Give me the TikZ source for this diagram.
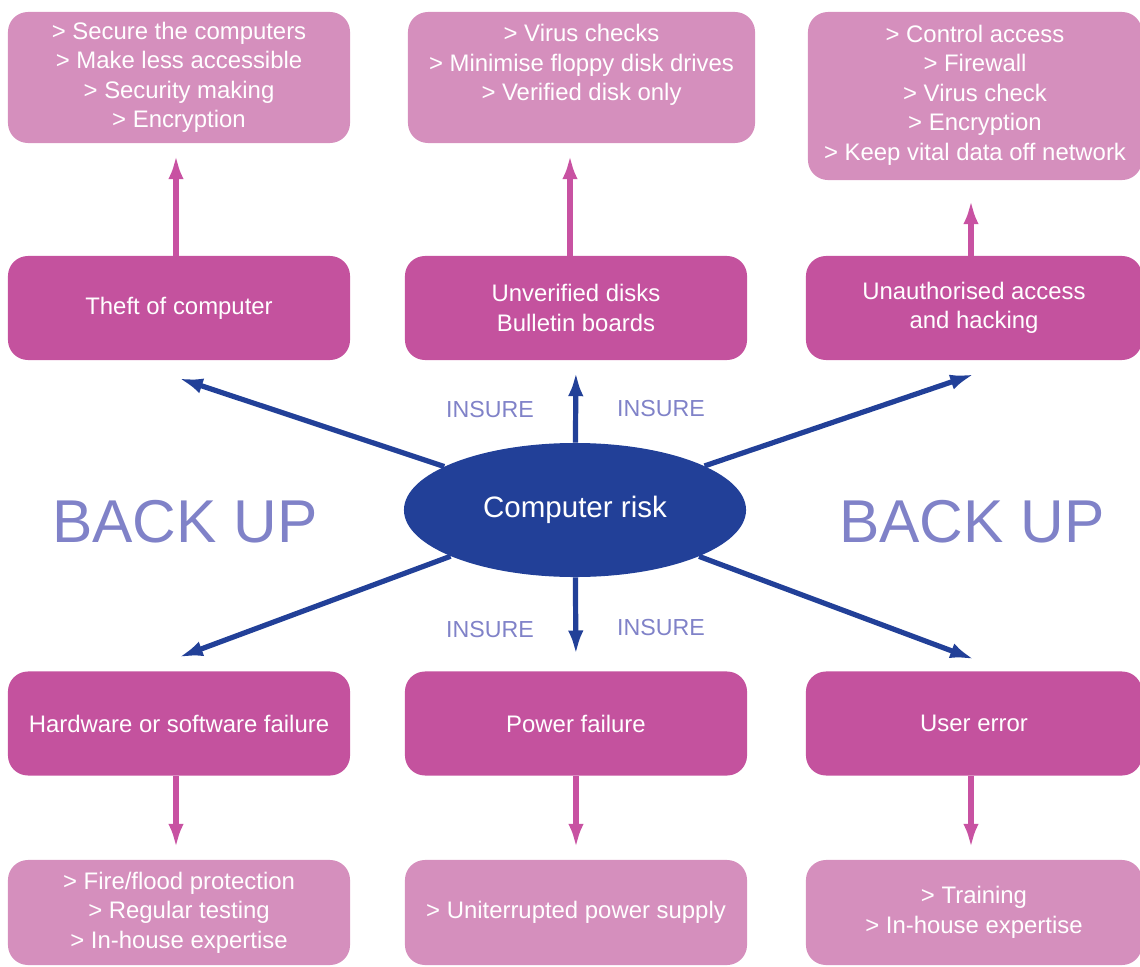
\documentclass[tikz,border=0pt]{standalone}
\usepackage{fontspec}
\setmainfont{Liberation Sans}
\usetikzlibrary{arrows.meta,shapes.geometric}

\definecolor{riskblue}{RGB}{34,64,152}
\definecolor{riskdark}{RGB}{196,82,158}
\definecolor{risklight}{RGB}{213,143,189}
\definecolor{insurecol}{RGB}{128,130,200}
\definecolor{arrowpink}{RGB}{200,82,162}

\tikzset{
  boxtext/.style={rounded corners=0.5cm, text=white, align=center, inner sep=0pt,
    font=\fontsize{17}{21}\selectfont},
  threat/.style={boxtext, fill=riskdark, minimum height=2.6cm},
  remedy/.style={boxtext, fill=risklight},
  pinkarrow/.style={draw=arrowpink, line width=3.9pt, -{Latex[length=17pt,width=11pt]}},
  bluearrow/.style={draw=riskblue, line width=3.7pt, -{Latex[length=17pt,width=11pt]}},
  insure/.style={text=insurecol, font=\fontsize{16.5}{18}\selectfont},
  backup/.style={text=insurecol, font=\fontsize{43}{48}\selectfont},
}

\begin{document}
\begin{tikzpicture}[x=0.025cm, y=-0.025cm]
\useasboundingbox (0,0) rectangle (1140,967);

% remedies on top
\node[remedy, minimum width=8.55cm, minimum height=3.275cm] (secure) at (179,77.5)
  {> Secure the computers\\> Make less accessible\\> Security making\\> Encryption};
\node[remedy, minimum width=8.675cm, minimum height=3.275cm] (viruscheck) at (581.5,77.5)
  {> Virus checks\\> Minimise floppy disk drives\\> Verified disk only\\\mbox{}};
\node[remedy, minimum width=8.35cm, minimum height=4.2cm] (control) at (975,96)
  {> Control access\\> Firewall\\> Virus check\\> Encryption\\> Keep vital data off network\\[-16pt]\mbox{}};

% threats
\node[threat, minimum width=8.55cm] (theft) at (179,308) {Theft of computer};
\node[threat, minimum width=8.55cm] (disks) at (576,308) {Unverified disks\\Bulletin boards};
\node[threat, minimum width=8.4cm] (hacking) at (974,308) {Unauthorised access\\and hacking};
\node[threat, minimum width=8.55cm] (hardware) at (179,723.5) {Hardware or software failure};
\node[threat, minimum width=8.55cm] (power) at (576,723.5) {Power failure};
\node[threat, minimum width=8.4cm] (usererr) at (974,723.5) {User error};

% remedies at the bottom
\node[remedy, minimum width=8.55cm, minimum height=2.625cm] (fire) at (179,912.5)
  {> Fire/flood protection\\> Regular testing\\> In-house expertise};
\node[remedy, minimum width=8.55cm, minimum height=2.625cm] (ups) at (576,912.5)
  {> Uniterrupted power supply};
\node[remedy, minimum width=8.4cm, minimum height=2.625cm] (training) at (974,912.5)
  {> Training\\> In-house expertise};

% centre
\node[ellipse, fill=riskblue, text=white, minimum width=8.55cm, minimum height=3.35cm,
  inner sep=0pt, font=\fontsize{21}{24}\selectfont] (risk) at (575,510) {Computer risk};

\node[backup] (backleft) at (185,522) {BACK UP};
\node[backup] (backright) at (972,522) {BACK UP};
\node[insure] (insure1) at (490,410) {INSURE};
\node[insure] (insure2) at (661,409) {INSURE};
\node[insure] (insure3) at (490,630) {INSURE};
\node[insure] (insure4) at (661,628) {INSURE};

% pink arrows
\draw[pinkarrow, shorten >=0.3cm] (theft.north -| 176,0) -- (secure.south -| 176,0);
\draw[pinkarrow, shorten >=0.3cm] (disks.north -| 570,0) -- (viruscheck.south -| 570,0);
\draw[pinkarrow, shorten >=0.5cm] (hacking.north -| 971,0) -- (control.south -| 971,0);
\draw[pinkarrow, shorten >=0.3cm] (hardware.south -| 176,0) -- (fire.north -| 176,0);
\draw[pinkarrow, shorten >=0.3cm] (power.south) -- (ups.north);
\draw[pinkarrow, shorten >=0.3cm] (usererr.south -| 971,0) -- (training.north -| 971,0);

% blue arrows
\draw[bluearrow] (risk) -- ([yshift=-0.45cm]theft.south);
\draw[bluearrow, shorten >=0.3cm] (risk) -- (disks.south);
\draw[bluearrow] (risk) -- ([yshift=-0.35cm]hacking.south);
\draw[bluearrow] (risk) -- ([yshift=0.35cm]hardware.north);
\draw[bluearrow, shorten >=0.42cm] (risk) -- (power.north);
\draw[bluearrow] (risk) -- ([yshift=0.3cm]usererr.north);
\end{tikzpicture}
\end{document}
